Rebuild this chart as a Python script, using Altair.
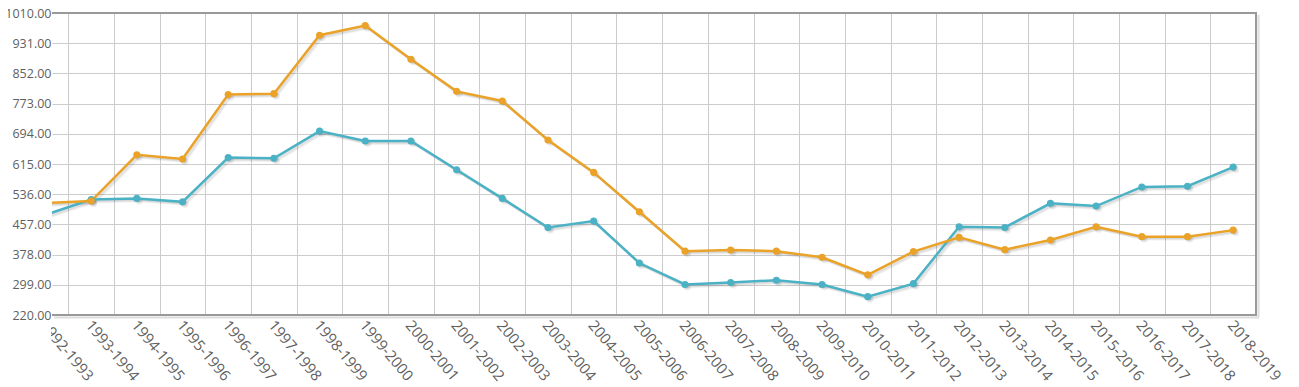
import altair as alt
import pandas as pd

seasons = ["1992-1993", "1993-1994", "1994-1995", "1995-1996", "1996-1997",
           "1997-1998", "1998-1999", "1999-2000", "2000-2001", "2001-2002",
           "2002-2003", "2003-2004", "2004-2005", "2005-2006", "2006-2007",
           "2007-2008", "2008-2009", "2009-2010", "2010-2011", "2011-2012",
           "2012-2013", "2013-2014", "2014-2015", "2015-2016", "2016-2017",
           "2017-2018", "2018-2019"]
series_blue = [482, 522, 525, 516, 632, 630, 701, 675, 675, 600, 525, 449, 466,
               356, 300, 305, 311, 300, 268, 302, 451, 449, 512, 505, 555, 557, 607]
series_orange = [513, 518, 639, 628, 797, 799, 952, 977, 889, 805, 780, 678, 593,
                 490, 387, 390, 387, 371, 325, 386, 423, 391, 416, 451, 425, 425, 442]
y_ticks = [220, 299, 378, 457, 536, 615, 694, 773, 852, 931, 1010]
series_names = ["Series 1", "Series 2"]
series_colors = ["#4bb2c5", "#EAA228"]

W, H = 1204, 302
X_MIN, X_MAX = 0.143, 26.5

rows = []
for i, s in enumerate(seasons):
    rows.append({"idx": i, "season": s, "series": series_names[0], "value": series_blue[i]})
    rows.append({"idx": i, "season": s, "series": series_names[1], "value": series_orange[i]})
df = pd.DataFrame(rows)
lab_df = pd.DataFrame({"idx": list(range(len(seasons))), "season": seasons})
one = pd.DataFrame({"a": [0]})

xscale = alt.Scale(domain=[X_MIN, X_MAX], nice=False, zero=False)
yscale = alt.Scale(domain=[220, 1010], nice=False, zero=False)
xaxis = alt.Axis(values=[i + 0.5 for i in range(len(seasons) - 1)], grid=True,
                 gridColor="#cccccc", gridWidth=1, labels=False, ticks=False,
                 domain=False, title=None)
yaxis = alt.Axis(values=y_ticks, format=".2f", grid=True, gridColor="#cccccc",
                 gridWidth=1, ticks=False, domain=False, labelPadding=1,
                 labelFontSize=12.5, labelColor="#5f5f5f", labelFont="Open Sans",
                 title=None)
color = alt.Color("series:N", scale=alt.Scale(domain=series_names, range=series_colors),
                  legend=None)

base = alt.Chart(df).encode(
    x=alt.X("idx:Q", scale=xscale, axis=xaxis),
    y=alt.Y("value:Q", scale=yscale, axis=yaxis),
)

layers = []
for k in (1, 2, 3):
    layers.append(base.mark_line(clip=True, strokeWidth=2.5, color="black",
                                 opacity=0.06, xOffset=k * 0.9, yOffset=k * 0.9)
                  .encode(detail="series:N"))
    layers.append(base.mark_circle(clip=True, size=50, color="black", opacity=0.05,
                                   xOffset=k * 0.9, yOffset=k * 0.9))
layers.append(base.mark_line(clip=True, strokeWidth=2.5).encode(color=color))
layers.append(base.mark_circle(clip=True, size=50, opacity=1).encode(color=color))

labels = alt.Chart(lab_df).mark_text(
    angle=50, align="left", baseline="top", fontSize=15, font="Open Sans",
    color="#5f5f5f", xOffset=3
).encode(x=alt.X("idx:Q", scale=xscale), y=alt.value(H + 3), text="season:N")
layers.append(labels)

mask = alt.Chart(one).mark_rect(color="white").encode(
    x=alt.value(-50), x2=alt.value(-1), y=alt.value(H + 5), y2=alt.value(H + 70))
layers.append(mask)

border = "#999999"
shadow = "#dddddd"
layers.append(alt.Chart(one).mark_rule(color=shadow, strokeWidth=2).encode(
    x=alt.value(W + 2.5), y=alt.value(2), y2=alt.value(H + 2)))
layers.append(alt.Chart(one).mark_rule(color=shadow, strokeWidth=2).encode(
    x=alt.value(2), x2=alt.value(W + 3), y=alt.value(H + 2.5)))
layers.append(alt.Chart(one).mark_rule(color=border, strokeWidth=2).encode(
    x=alt.value(0), x2=alt.value(W + 1), y=alt.value(0)))
layers.append(alt.Chart(one).mark_rule(color=border, strokeWidth=2).encode(
    x=alt.value(0), x2=alt.value(W + 1), y=alt.value(H)))
layers.append(alt.Chart(one).mark_rule(color=border, strokeWidth=2).encode(
    x=alt.value(W), y=alt.value(0), y2=alt.value(H + 1)))

chart = alt.layer(*layers).properties(
    width=W, height=H,
    autosize=alt.AutoSizeParams(type="none"),
    padding={"left": 44, "top": 5, "right": 35, "bottom": 72},
).configure_view(stroke=None)

chart.save("out.html", embed_options={"renderer": "svg", "actions": False})
